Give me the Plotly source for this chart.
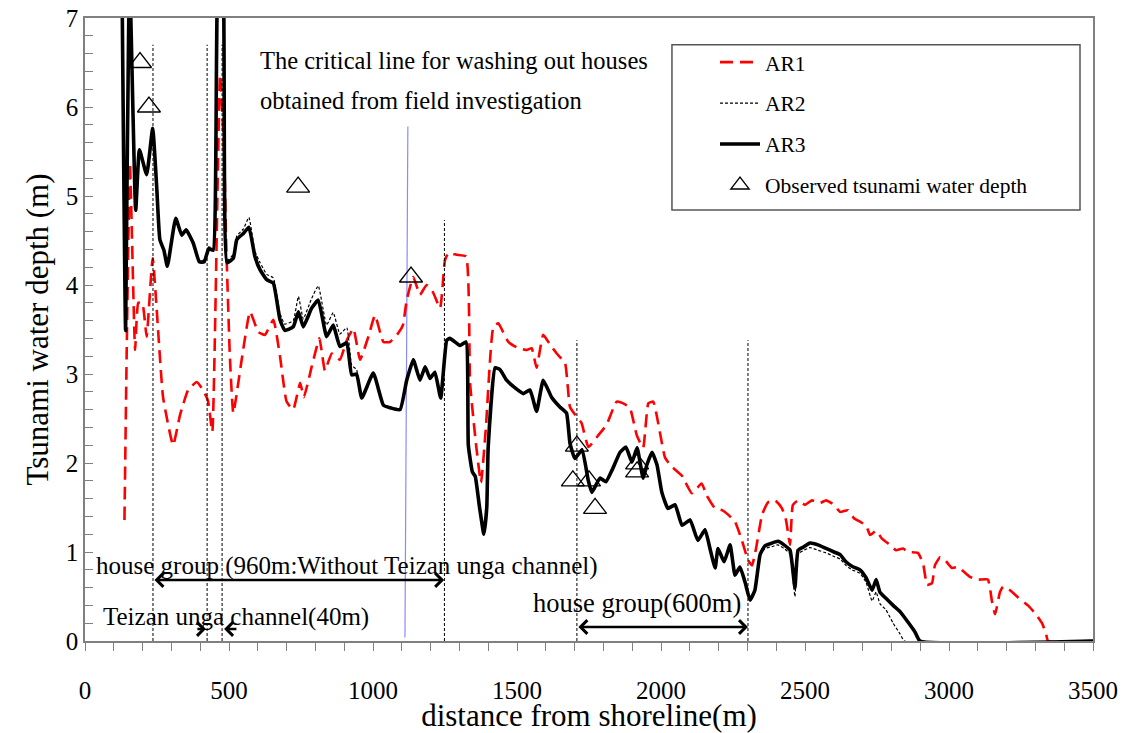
import plotly.graph_objects as go

FONT = "Liberation Serif, Times New Roman, serif"

# ---------------- data ----------------
ar3_x = [128, 141, 154, 176, 189, 214, 235, 249, 260, 274, 286, 315, 336, 351, 376, 397, 414, 430, 445,
         465, 476, 493, 515, 527, 550, 569, 590, 608, 631, 654, 677, 694, 723, 741, 758, 787, 810, 839,
         862, 885, 909, 926, 943, 961, 1001, 1036, 1059, 1094, 1117, 1140, 1163, 1181, 1198, 1215, 1235,
         1256, 1267, 1302, 1323, 1331, 1345, 1355, 1370, 1385, 1395, 1400, 1424, 1441, 1464, 1487, 1522,
         1545, 1568, 1591, 1620, 1649, 1672, 1684, 1701, 1726, 1747, 1760, 1788, 1809, 1830, 1858, 1878,
         1899, 1917, 1938, 1951, 1969, 1986, 2003, 2024, 2049, 2073, 2101, 2128, 2153, 2170, 2188, 2198,
         2219, 2240, 2257, 2274, 2292, 2309, 2326, 2344, 2361, 2385, 2406, 2427, 2448, 2465, 2476, 2497,
         2517, 2545, 2573, 2601, 2622, 2642, 2663, 2691, 2712, 2733, 2747, 2760, 2781, 2806, 2830, 2858,
         2882, 2899, 3500]
ar3_y = [7.6, 3.49, 7.6, 4.84, 5.52, 5.24, 5.76, 5.10, 4.51, 4.39, 4.21, 4.75, 4.56, 4.62, 4.47, 4.26, 4.26, 4.41, 4.39,
         7.6, 7.6, 4.25, 4.30, 4.51, 4.58, 4.65, 4.32, 4.17, 4.06, 4.02, 3.61, 3.49, 3.53, 3.70, 3.53, 3.74, 3.83, 3.42,
         3.55, 3.31, 3.35, 2.99, 3.00, 2.73, 3.01, 2.65, 2.62, 2.60, 2.93, 3.16, 2.93, 3.08, 2.95, 3.02, 2.73,
         3.38, 3.40, 3.32, 3.36, 2.20, 1.90, 1.85, 1.50, 1.20, 1.50, 2.18, 3.07, 3.05, 2.93, 2.86, 2.78,
         2.82, 2.58, 2.93, 2.74, 2.63, 2.56, 2.22, 2.05, 2.15, 1.81, 1.67, 1.83, 1.79, 1.92, 2.12, 2.18,
         2.01, 2.17, 1.83, 1.98, 2.12, 1.98, 1.67, 1.49, 1.53, 1.30, 1.36, 1.13, 1.25, 1.04, 0.82, 1.04,
         0.89, 1.08, 0.74, 0.83, 0.66, 0.46, 0.57, 0.97, 1.07, 1.10, 1.12, 1.08, 1.02, 0.60, 1.02, 1.06,
         1.10, 1.08, 1.04, 1.00, 0.97, 0.89, 0.84, 0.80, 0.71, 0.57, 0.69, 0.55, 0.48, 0.40, 0.33, 0.21,
         0.10, 0.00, 0.00]

ar2_x = [128, 141, 154, 176, 189, 214, 235, 249, 260, 274, 286, 315, 336, 351, 376, 397, 414, 430, 445,
         465, 476, 493, 515, 527, 550, 569, 590, 608, 631, 654, 677, 694, 723, 741, 758, 787, 810, 839,
         862, 885, 909, 926, 943, 961, 1001, 1036, 1059, 1094, 1117, 1140, 1163, 1181, 1198, 1215, 1235,
         1256, 1267, 1302, 1323, 1331, 1345, 1355, 1370, 1385, 1395, 1400, 1424, 1441, 1464, 1487, 1522,
         1545, 1568, 1591, 1620, 1649, 1672, 1684, 1701, 1726, 1747, 1760, 1788, 1809, 1830, 1858, 1878,
         1899, 1917, 1938, 1951, 1969, 1986, 2003, 2024, 2049, 2073, 2101, 2128, 2153, 2170, 2188, 2198,
         2219, 2240, 2257, 2274, 2292, 2309, 2326, 2344, 2361, 2385, 2406, 2427, 2448, 2465, 2476, 2497,
         2517, 2545, 2573, 2601, 2622, 2642, 2663, 2691, 2712, 2733, 2747, 2760, 2781, 2806, 2830, 2845,
         3500]
ar2_y = [7.6, 3.49, 7.6, 4.84, 5.52, 5.24, 5.76, 5.10, 4.51, 4.39, 4.21, 4.75, 4.56, 4.62, 4.47, 4.28, 4.28, 4.43, 4.41,
         7.6, 7.6, 4.27, 4.35, 4.55, 4.63, 4.76, 4.38, 4.25, 4.12, 4.08, 3.68, 3.56, 3.60, 3.87, 3.62, 3.85, 3.99, 3.55,
         3.69, 3.45, 3.52, 3.10, 3.05, 2.75, 3.02, 2.66, 2.63, 2.61, 2.94, 3.17, 2.94, 3.09, 2.96, 3.03, 2.74,
         3.39, 3.41, 3.33, 3.37, 2.21, 1.91, 1.86, 1.51, 1.21, 1.51, 2.19, 3.08, 3.06, 2.94, 2.87, 2.79,
         2.83, 2.59, 2.94, 2.75, 2.64, 2.57, 2.23, 2.06, 2.16, 1.82, 1.68, 1.84, 1.80, 1.93, 2.13, 2.19,
         2.02, 2.18, 1.84, 1.99, 2.13, 1.99, 1.68, 1.50, 1.54, 1.31, 1.37, 1.14, 1.26, 1.05, 0.83, 1.05,
         0.90, 1.09, 0.75, 0.84, 0.67, 0.47, 0.58, 0.96, 1.04, 1.06, 1.08, 1.04, 0.98, 0.50, 0.98, 1.02,
         1.05, 1.02, 0.99, 0.95, 0.92, 0.85, 0.80, 0.76, 0.66, 0.45, 0.55, 0.42, 0.35, 0.20, 0.08, 0.00,
         0.00]

ar1_x = [137, 145, 156, 174, 185, 199, 214, 235, 271, 306, 330, 358, 388, 410, 427, 442, 469, 483, 490,
         503, 515, 544, 573, 602, 625, 654, 677, 700, 723, 747, 760, 787, 814, 833, 857, 885, 909, 932,
         955, 984, 1007, 1036, 1059, 1088, 1104, 1117, 1140, 1163, 1186, 1208, 1233, 1250, 1262, 1290,
         1323, 1337, 1358, 1375, 1392, 1418, 1435, 1452, 1470, 1499, 1534, 1551, 1568, 1591, 1615, 1638,
         1667, 1684, 1707, 1724, 1748, 1782, 1811, 1846, 1869, 1892, 1916, 1938, 1956, 1973, 2014, 2037,
         2072, 2107, 2141, 2158, 2188, 2212, 2233, 2257, 2281, 2302, 2316, 2330, 2351, 2372, 2396, 2420,
         2434, 2448, 2458, 2476, 2500, 2524, 2552, 2573, 2601, 2622, 2649, 2670, 2691, 2712, 2726, 2747,
         2767, 2795, 2816, 2840, 2858, 2892, 2910, 2924, 2941, 2951, 2969, 2986, 3010, 3031, 3073, 3101,
         3135, 3149, 3160, 3177, 3188, 3212, 3240, 3274, 3302, 3323, 3337, 3344, 3500]
ar1_y = [1.36, 3.30, 5.37, 3.27, 3.80, 3.80, 3.42, 4.30, 2.74, 2.20, 2.54, 2.82, 2.91, 2.82, 2.70, 2.35, 6.36, 5.50, 4.50,
         3.20, 2.56, 3.16, 3.70, 3.47, 3.44, 3.61, 3.20, 2.69, 2.60, 2.90, 2.74, 3.08, 3.40, 3.04, 3.23, 3.16, 3.38, 3.51,
         3.16, 3.42, 3.66, 3.36, 3.36, 3.46, 3.55, 3.83, 4.09, 3.89, 4.00, 3.92, 3.74, 4.28, 4.36, 4.34,
         4.32, 2.90, 2.20, 1.78, 2.40, 3.53, 3.57, 3.47, 3.36, 3.30, 3.27, 3.29, 3.07, 3.44, 3.33, 3.23,
         3.12, 2.63, 2.52, 2.45, 2.18, 2.31, 2.43, 2.69, 2.67, 2.62, 2.31, 2.17, 2.67, 2.69, 2.06, 1.96,
         1.86, 1.66, 1.77, 1.64, 1.49, 1.47, 1.42, 1.34, 1.13, 0.91, 0.85, 1.04, 1.42, 1.56, 1.58, 1.49,
         1.36, 1.08, 1.53, 1.58, 1.53, 1.58, 1.55, 1.58, 1.53, 1.45, 1.47, 1.38, 1.34, 1.30, 1.19, 1.24,
         1.15, 1.08, 1.02, 1.04, 1.00, 0.99, 0.87, 0.63, 0.65, 0.85, 0.94, 0.91, 0.82, 0.83, 0.72, 0.69,
         0.69, 0.45, 0.30, 0.55, 0.61, 0.57, 0.49, 0.40, 0.30, 0.20, 0.08, 0.00, 0.00]

obs_x = [191, 222, 740, 1132, 1708, 1694, 1750, 1771, 1917, 1917]
obs_y = [6.50, 6.00, 5.10, 4.09, 2.19, 1.80, 1.80, 1.49, 1.99, 1.90]

# vertical guide lines: (x, top y)
vline_x = [236, 424, 476, 1248, 1708, 2302]
vline_top = [6.7, 6.7, 6.7, 4.73, 3.38, 3.38]

# critical line (blue)
crit_x = [1121, 1111]
crit_y = [5.78, 0.04]

x_ticks = [0, 500, 1000, 1500, 2000, 2500, 3000, 3500]
y_ticks = [0, 1, 2, 3, 4, 5, 6, 7]

# ---------------- figure ----------------
fig = go.Figure()

fig.add_trace(go.Scatter(x=crit_x, y=crit_y, mode="lines", showlegend=False,
                         line=dict(color="#8a8aff", width=1.2), hoverinfo="skip"))

for vx, vt in zip(vline_x, vline_top):
    fig.add_shape(type="line", xref="x", yref="y", x0=vx, x1=vx, y0=0, y1=vt,
                  line=dict(color="black", width=1, dash="3px,2px"))

fig.add_trace(go.Scatter(x=ar1_x, y=ar1_y, mode="lines", name="AR1", legendgroup="a1",
                         line=dict(color="#ff0000", width=2.6, dash="13px,7px", shape="spline", smoothing=0.4)))
fig.add_trace(go.Scatter(x=ar2_x, y=ar2_y, mode="lines", name="AR2", legendgroup="a2",
                         line=dict(color="black", width=1.2, dash="3px,2px", shape="spline", smoothing=0.4)))
fig.add_trace(go.Scatter(x=ar3_x, y=ar3_y, mode="lines", name="AR3", legendgroup="a3",
                         line=dict(color="black", width=3.6, shape="spline", smoothing=0.4)))
fig.add_trace(go.Scatter(x=obs_x, y=obs_y, mode="markers", name="Observed tsunami water depth",
                         legendgroup="a4",
                         marker=dict(symbol="triangle-up-open", size=20, color="black", line=dict(width=1.3))))

# legend frame
fig.add_shape(type="rect", xref="paper", yref="paper", x0=0.5823, x1=0.9871, y0=0.692, y1=0.957,
              line=dict(color="#555555", width=1.5), fillcolor="rgba(0,0,0,0)")

annotations = [
    dict(x=601, y=6.52, text="The critical line for washing out houses", xanchor="left", size=24.5),
    dict(x=601, y=6.07, text="obtained from field investigation", xanchor="left", size=24.5),
    dict(x=910, y=0.84, text="house group (960m:Without Teizan unga channel)", xanchor="center", size=25),
    dict(x=523, y=0.27, text="Teizan unga channel(40m)", xanchor="center", size=25),
    dict(x=1917, y=0.43, text="house group(600m)", xanchor="center", size=26.5),
]
for a in annotations:
    sz = a.pop("size")
    fig.add_annotation(xref="x", yref="y", showarrow=False, yanchor="middle",
                       font=dict(family=FONT, size=sz, color="black"), **a)

arrows = [
    dict(x=1247, y=0.685, ax=236, ay=0.685, arrowside="end+start"),
    dict(x=420, y=0.135, ax=385, ay=0.135, arrowside="end"),
    dict(x=483, y=0.135, ax=531, ay=0.135, arrowside="end"),
    dict(x=2302, y=0.157, ax=1708, ay=0.157, arrowside="end+start"),
]
for a in arrows:
    fig.add_annotation(xref="x", yref="y", axref="x", ayref="y", text="", showarrow=True,
                       arrowhead=4, startarrowhead=4, arrowsize=1.1, startarrowsize=1.1,
                       arrowwidth=2.4, arrowcolor="black", **a)

# page body has an 8px margin, so the figure is 8px smaller and margins are shifted accordingly
fig.update_layout(
    width=1122, height=725,
    margin=dict(l=77, r=37, t=10, b=92),
    paper_bgcolor="white", plot_bgcolor="white",
    font=dict(family=FONT, color="black"),
    legend=dict(x=0.625, y=0.962, xanchor="left", yanchor="top",
                bgcolor="rgba(0,0,0,0)", borderwidth=0,
                font=dict(family=FONT, size=21.5, color="black"),
                tracegroupgap=10, itemwidth=40),
    xaxis=dict(range=[0, 3500], tickvals=x_ticks, ticks="outside", ticklen=8, tickcolor="#808080",
               showline=True, linecolor="#808080", linewidth=1.5, mirror=True, showgrid=False,
               zeroline=False, tickfont=dict(family=FONT, size=25), ticklabelstandoff=18,
               automargin=False, ticklabeloverflow="allow",
               minor=dict(dtick=100, ticks="outside", ticklen=8, tickcolor="#808080"),
               title=dict(text="distance from shoreline(m)", font=dict(family=FONT, size=31), standoff=2)),
    yaxis=dict(range=[0, 7], tickvals=y_ticks, ticks="inside", ticklen=8, tickcolor="#808080",
               showline=True, linecolor="#808080", linewidth=1.5, mirror=True, showgrid=False,
               zeroline=False, tickfont=dict(family=FONT, size=25), ticklabelstandoff=0,
               automargin=False, ticklabeloverflow="allow",
               minor=dict(dtick=0.2, ticks="inside", ticklen=8, tickcolor="#808080"),
               title=dict(text="Tsunami water depth (m)", font=dict(family=FONT, size=31), standoff=8)),
)

fig.write_html("out.html")
